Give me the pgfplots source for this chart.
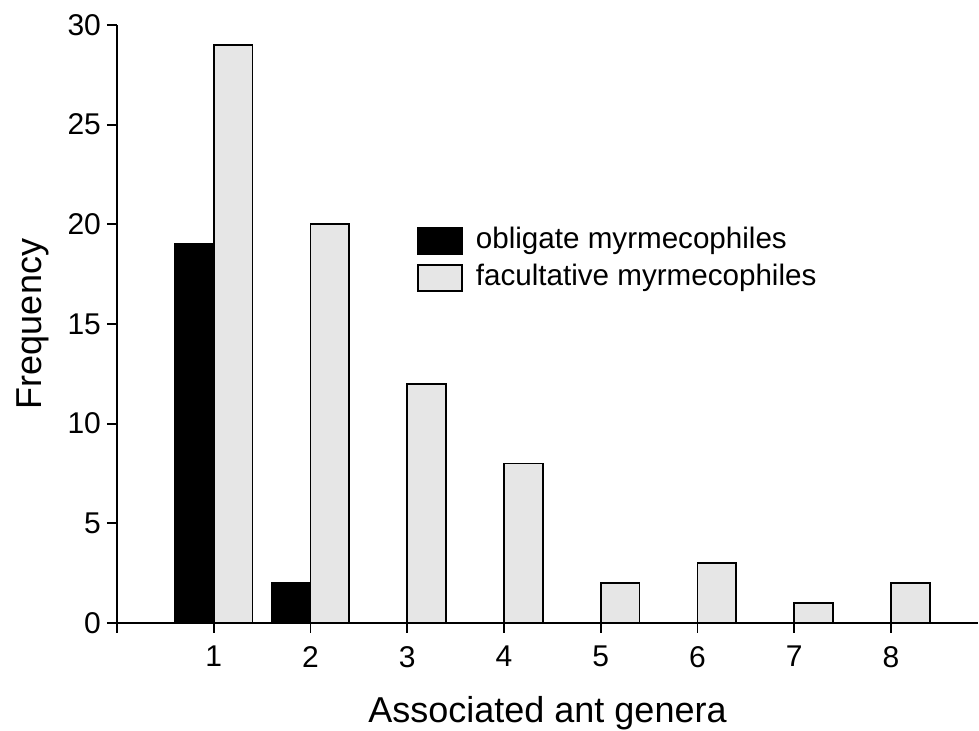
\documentclass[border=0pt]{standalone}
\usepackage{pgfplots}
\pgfplotsset{compat=1.18}
\usepackage{fontspec}
\setmainfont{Liberation Sans}
\definecolor{facgray}{HTML}{E6E6E6}
\begin{document}
\begin{tikzpicture}
\begin{axis}[
  scale only axis,
  width=430.5pt, height=299pt,
  xmin=0, xmax=8.9, ymin=0, ymax=30,
  axis lines=left,
  axis line style={-, line width=0.9pt},
  every tick/.style={black, line width=0.9pt},
  tick align=outside,
  major tick length=5pt,
  xtick={0,1,2,3,4,5,6,7,8},
  xticklabels={,1,2,3,4,5,6,7,8},
  ytick={0,5,10,15,20,25,30},
  /pgf/number format/assume math mode=true,
  tick label style={font=\fontsize{15}{17}\selectfont},
  x tick label style={yshift=-3pt},
  y tick label style={xshift=0.5pt},
  xlabel={Associated ant genera},
  ylabel={Frequency},
  label style={font=\fontsize{18}{21}\selectfont},
  xlabel style={at={(axis description cs:0.5,0)}, anchor=base, yshift=-50pt},
  ylabel style={at={(axis description cs:0,0.5)}, anchor=base, yshift=37.5pt},
  ybar,
  bar width=0.4,
  legend image code/.code={\draw[#1, line width=0.9pt] (0pt,-6.5pt) rectangle (22pt,6.5pt); \path[draw=none, fill=none] (0pt,0pt) -- (28pt,0pt);},
  legend style={
    draw=none, fill=none,
    at={(axis description cs:0.348,0.665)}, anchor=north west,
    font=\fontsize{14.8}{17}\selectfont,
    inner sep=0pt, row sep=3pt,
    nodes={inner sep=1pt, text height=10.5pt, text depth=3pt},
  },
  legend cell align=left,
  clip=false,
]
\addplot[fill=black, draw=black, line width=0.9pt, bar shift=-0.2] coordinates {(1,19) (2,2)};
\addplot[fill=facgray, draw=black, line width=0.9pt, bar shift=0.2] coordinates {(1,29) (2,20) (3,12) (4,8) (5,2) (6,3) (7,1) (8,2)};
\legend{obligate myrmecophiles, facultative myrmecophiles}
\end{axis}
\coordinate (bba) at ([shift={(-58.5pt,-54pt)}]current axis.south west);
\coordinate (bbb) at ([shift={(0.5pt,12.5pt)}]current axis.north east);
\pgfresetboundingbox
\path (bba) rectangle (bbb);
\end{tikzpicture}
\end{document}
